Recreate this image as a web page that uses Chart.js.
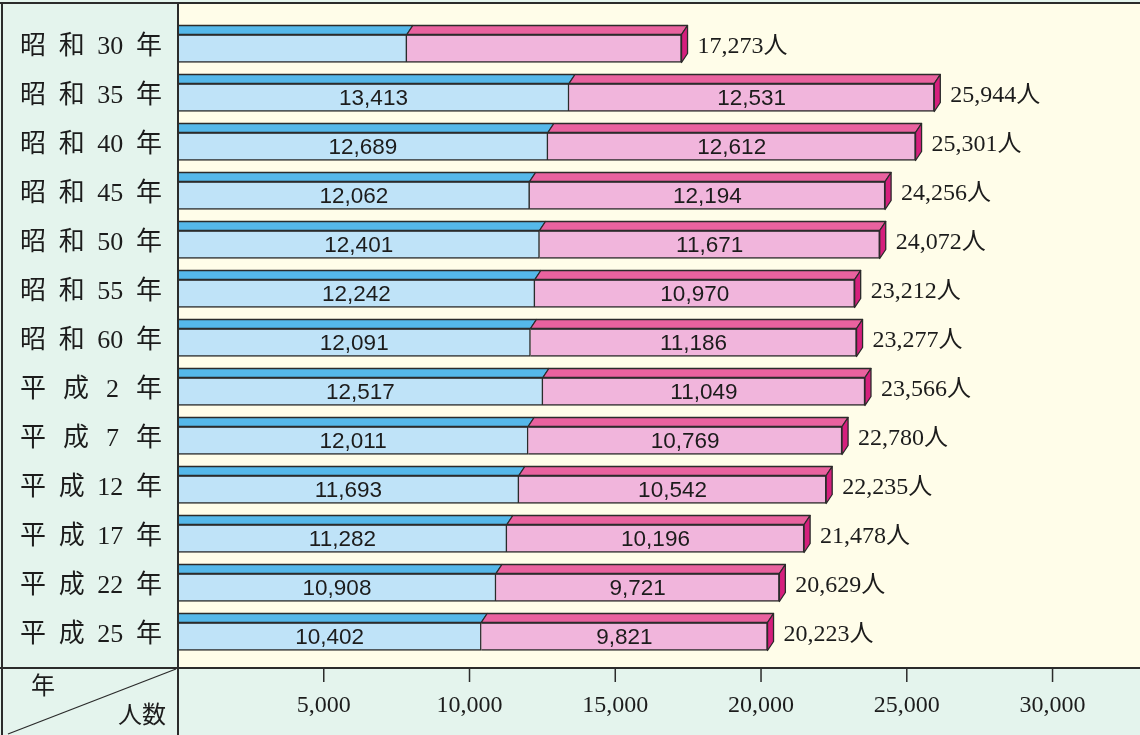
<!DOCTYPE html>
<html><head><meta charset="utf-8">
<script src="https://cdn.jsdelivr.net/npm/chart.js@4.4.1/dist/chart.umd.min.js"></script>
<style>html,body{margin:0;padding:0;background:#fff}#wrap{width:1140px;height:735px;position:relative}</style>
</head><body><div id="wrap"><canvas id="c"></canvas></div>
<script>
// ---- data ----
const categories = ['昭和30年','昭和35年','昭和40年','昭和45年','昭和50年','昭和55年','昭和60年','平成2年','平成7年','平成12年','平成17年','平成22年','平成25年'];
// first row has no inner labels in the source; split
const maleValues   = [7850, 13413, 12689, 12062, 12401, 12242, 12091, 12517, 12011, 11693, 11282, 10908, 10402];
const femaleValues = [9423, 12531, 12612, 12194, 11671, 10970, 11186, 11049, 10769, 10542, 10196,  9721,  9821];
const totalValues  = [17273, 25944, 25301, 24256, 24072, 23212, 23277, 23566, 22780, 22235, 21478, 20629, 20223];
const innerLabelShown = [false, true, true, true, true, true, true, true, true, true, true, true, true];
const tickValues = [5000, 10000, 15000, 20000, 25000, 30000];
const cornerTopLabel = '年';
const cornerBottomLabel = '人数';
const totalSuffix = '人';

// ---- style ----
const C = {
  cream: '#fffde9', mint: '#e4f4ed', line: '#2b2b2b',
  blueFront: '#bfe3f8', blueTop: '#55b8ea',
  pinkFront: '#f1b5dc', pinkTop: '#e9629f', side: '#d51f7d'
};
const DX = 6, DY = 9;
const SERIF = "'Liberation Serif','Noto Sans CJK JP',serif";
const fmt = v => v.toLocaleString('en-US');

function poly(ctx, pts, fill) {
  ctx.beginPath();
  ctx.moveTo(pts[0][0], pts[0][1]);
  for (let i = 1; i < pts.length; i++) ctx.lineTo(pts[i][0], pts[i][1]);
  ctx.closePath();
  ctx.fillStyle = fill; ctx.fill();
  ctx.lineWidth = 1.3; ctx.strokeStyle = C.line; ctx.stroke();
}

const framePlugin = {
  id: 'frame',
  beforeDraw(chart) {
    const ctx = chart.ctx, a = chart.chartArea, W = chart.width, H = chart.height;
    const axisY = a.bottom + 7;
    ctx.save();
    ctx.fillStyle = C.mint; ctx.fillRect(0, 0, W, H);
    ctx.fillStyle = C.cream; ctx.fillRect(a.left, 3, W - a.left, axisY - 3);
    ctx.restore();
  },
  afterDatasetsDraw(chart) {
    const ctx = chart.ctx;
    const m0 = chart.getDatasetMeta(0), m1 = chart.getDatasetMeta(1);
    ctx.save();
    ctx.lineJoin = 'round';
    m0.data.forEach((el0, i) => {
      const b0 = el0.getProps(['x', 'y', 'base', 'height'], true);
      const b1 = m1.data[i].getProps(['x', 'y', 'base', 'height'], true);
      const top = b0.y - b0.height / 2, bot = b0.y + b0.height / 2;
      poly(ctx, [[b0.base, top], [b0.x, top], [b0.x + DX, top - DY], [b0.base, top - DY]], C.blueTop);
      poly(ctx, [[b1.base, top], [b1.x, top], [b1.x + DX, top - DY], [b1.base + DX, top - DY]], C.pinkTop);
      poly(ctx, [[b1.x, top], [b1.x + DX, top - DY], [b1.x + DX, bot - DY], [b1.x, bot]], C.side);
      // inner labels
      ctx.fillStyle = '#1c1c1c';
      ctx.textBaseline = 'middle';
      if (innerLabelShown[i]) {
        ctx.font = "22.5px 'Liberation Sans', Arial, sans-serif";
        ctx.textAlign = 'center';
        ctx.fillText(fmt(maleValues[i]), (b0.base + b0.x) / 2, b0.y + 1);
        ctx.fillText(fmt(femaleValues[i]), (b1.base + b1.x) / 2, b1.y + 1);
      }
      ctx.font = '24px ' + SERIF;
      ctx.textAlign = 'left';
      ctx.fillText(fmt(totalValues[i]) + totalSuffix, b1.x + 16, b1.y - 2);
    });
    ctx.restore();
  },
  afterDraw(chart) {
    const ctx = chart.ctx, a = chart.chartArea, W = chart.width, H = chart.height;
    const axisY = a.bottom + 7;
    const xs = chart.scales.x, ys = chart.scales.y;
    ctx.save();
    // y labels, distributed across the left column
    ctx.fillStyle = '#1c1c1c';
    ctx.textBaseline = 'middle';
    ctx.textAlign = 'left';
    ctx.font = '26px ' + SERIF;
    categories.forEach((lab, i) => {
      const m = lab.match(/^(.)(.)(\d+)(.)$/);
      const toks = m ? m.slice(1) : [lab];
      const ws = toks.map(t => ctx.measureText(t).width);
      const L = 20, R = 162;
      const gap = toks.length > 1 ? (R - L - ws.reduce((p, q) => p + q, 0)) / (toks.length - 1) : 0;
      let x = L;
      const y = ys.getPixelForValue(i) - 1;
      toks.forEach((t, k) => { ctx.fillText(t, x, y); x += ws[k] + gap; });
    });
    // frame lines
    ctx.strokeStyle = C.line;
    ctx.lineWidth = 2;
    ctx.beginPath();
    ctx.moveTo(0, 3); ctx.lineTo(W, 3);
    ctx.moveTo(2, 3); ctx.lineTo(2, H);
    ctx.moveTo(a.left, 3); ctx.lineTo(a.left, H);
    ctx.moveTo(0, axisY); ctx.lineTo(W, axisY);
    ctx.stroke();
    ctx.lineWidth = 1.3;
    ctx.beginPath();
    ctx.moveTo(8, H - 1); ctx.lineTo(a.left - 2, axisY + 1);
    ctx.stroke();
    // tick marks
    ctx.lineWidth = 1.5;
    ctx.beginPath();
    tickValues.forEach(v => {
      const x = xs.getPixelForValue(v);
      ctx.moveTo(x, axisY); ctx.lineTo(x, axisY + 14);
    });
    ctx.stroke();
    // corner labels
    ctx.font = '24px ' + SERIF;
    ctx.textAlign = 'left';
    ctx.fillText(cornerTopLabel, 31, axisY + 20);
    ctx.textAlign = 'right';
    ctx.fillText(cornerBottomLabel, 166, axisY + 49);
    ctx.restore();
  }
};

new Chart(document.getElementById('c'), {
  type: 'bar',
  data: {
    labels: categories,
    datasets: [
      { label: '男', data: maleValues, backgroundColor: C.blueFront, borderColor: C.line,
        borderWidth: 1.5, borderSkipped: 'start', barThickness: 28 },
      { label: '女', data: femaleValues, backgroundColor: C.pinkFront, borderColor: C.line,
        borderWidth: 1.5, borderSkipped: 'start', barThickness: 28 }
    ]
  },
  options: {
    indexAxis: 'y',
    responsive: true,
    maintainAspectRatio: false,
    animation: false,
    layout: { padding: { top: 24, left: 0, right: 0, bottom: 0 } },
    plugins: { legend: { display: false }, tooltip: { enabled: false } },
    scales: {
      x: {
        stacked: true, min: 0, max: 33000,
        grid: { display: false, drawTicks: false },
        border: { display: false },
        afterBuildTicks: s => { s.ticks = tickValues.map(v => ({ value: v })); },
        afterFit: s => { s.height = 74; },
        ticks: {
          autoSkip: false, maxRotation: 0, padding: 30, color: '#1c1c1c',
          font: { family: SERIF, size: 24 },
          callback: v => fmt(v)
        }
      },
      y: {
        stacked: true,
        grid: { display: false },
        border: { display: false },
        ticks: { display: false },
        afterFit: s => { s.width = 178; }
      }
    }
  },
  plugins: [framePlugin]
});
</script>
</body></html>
